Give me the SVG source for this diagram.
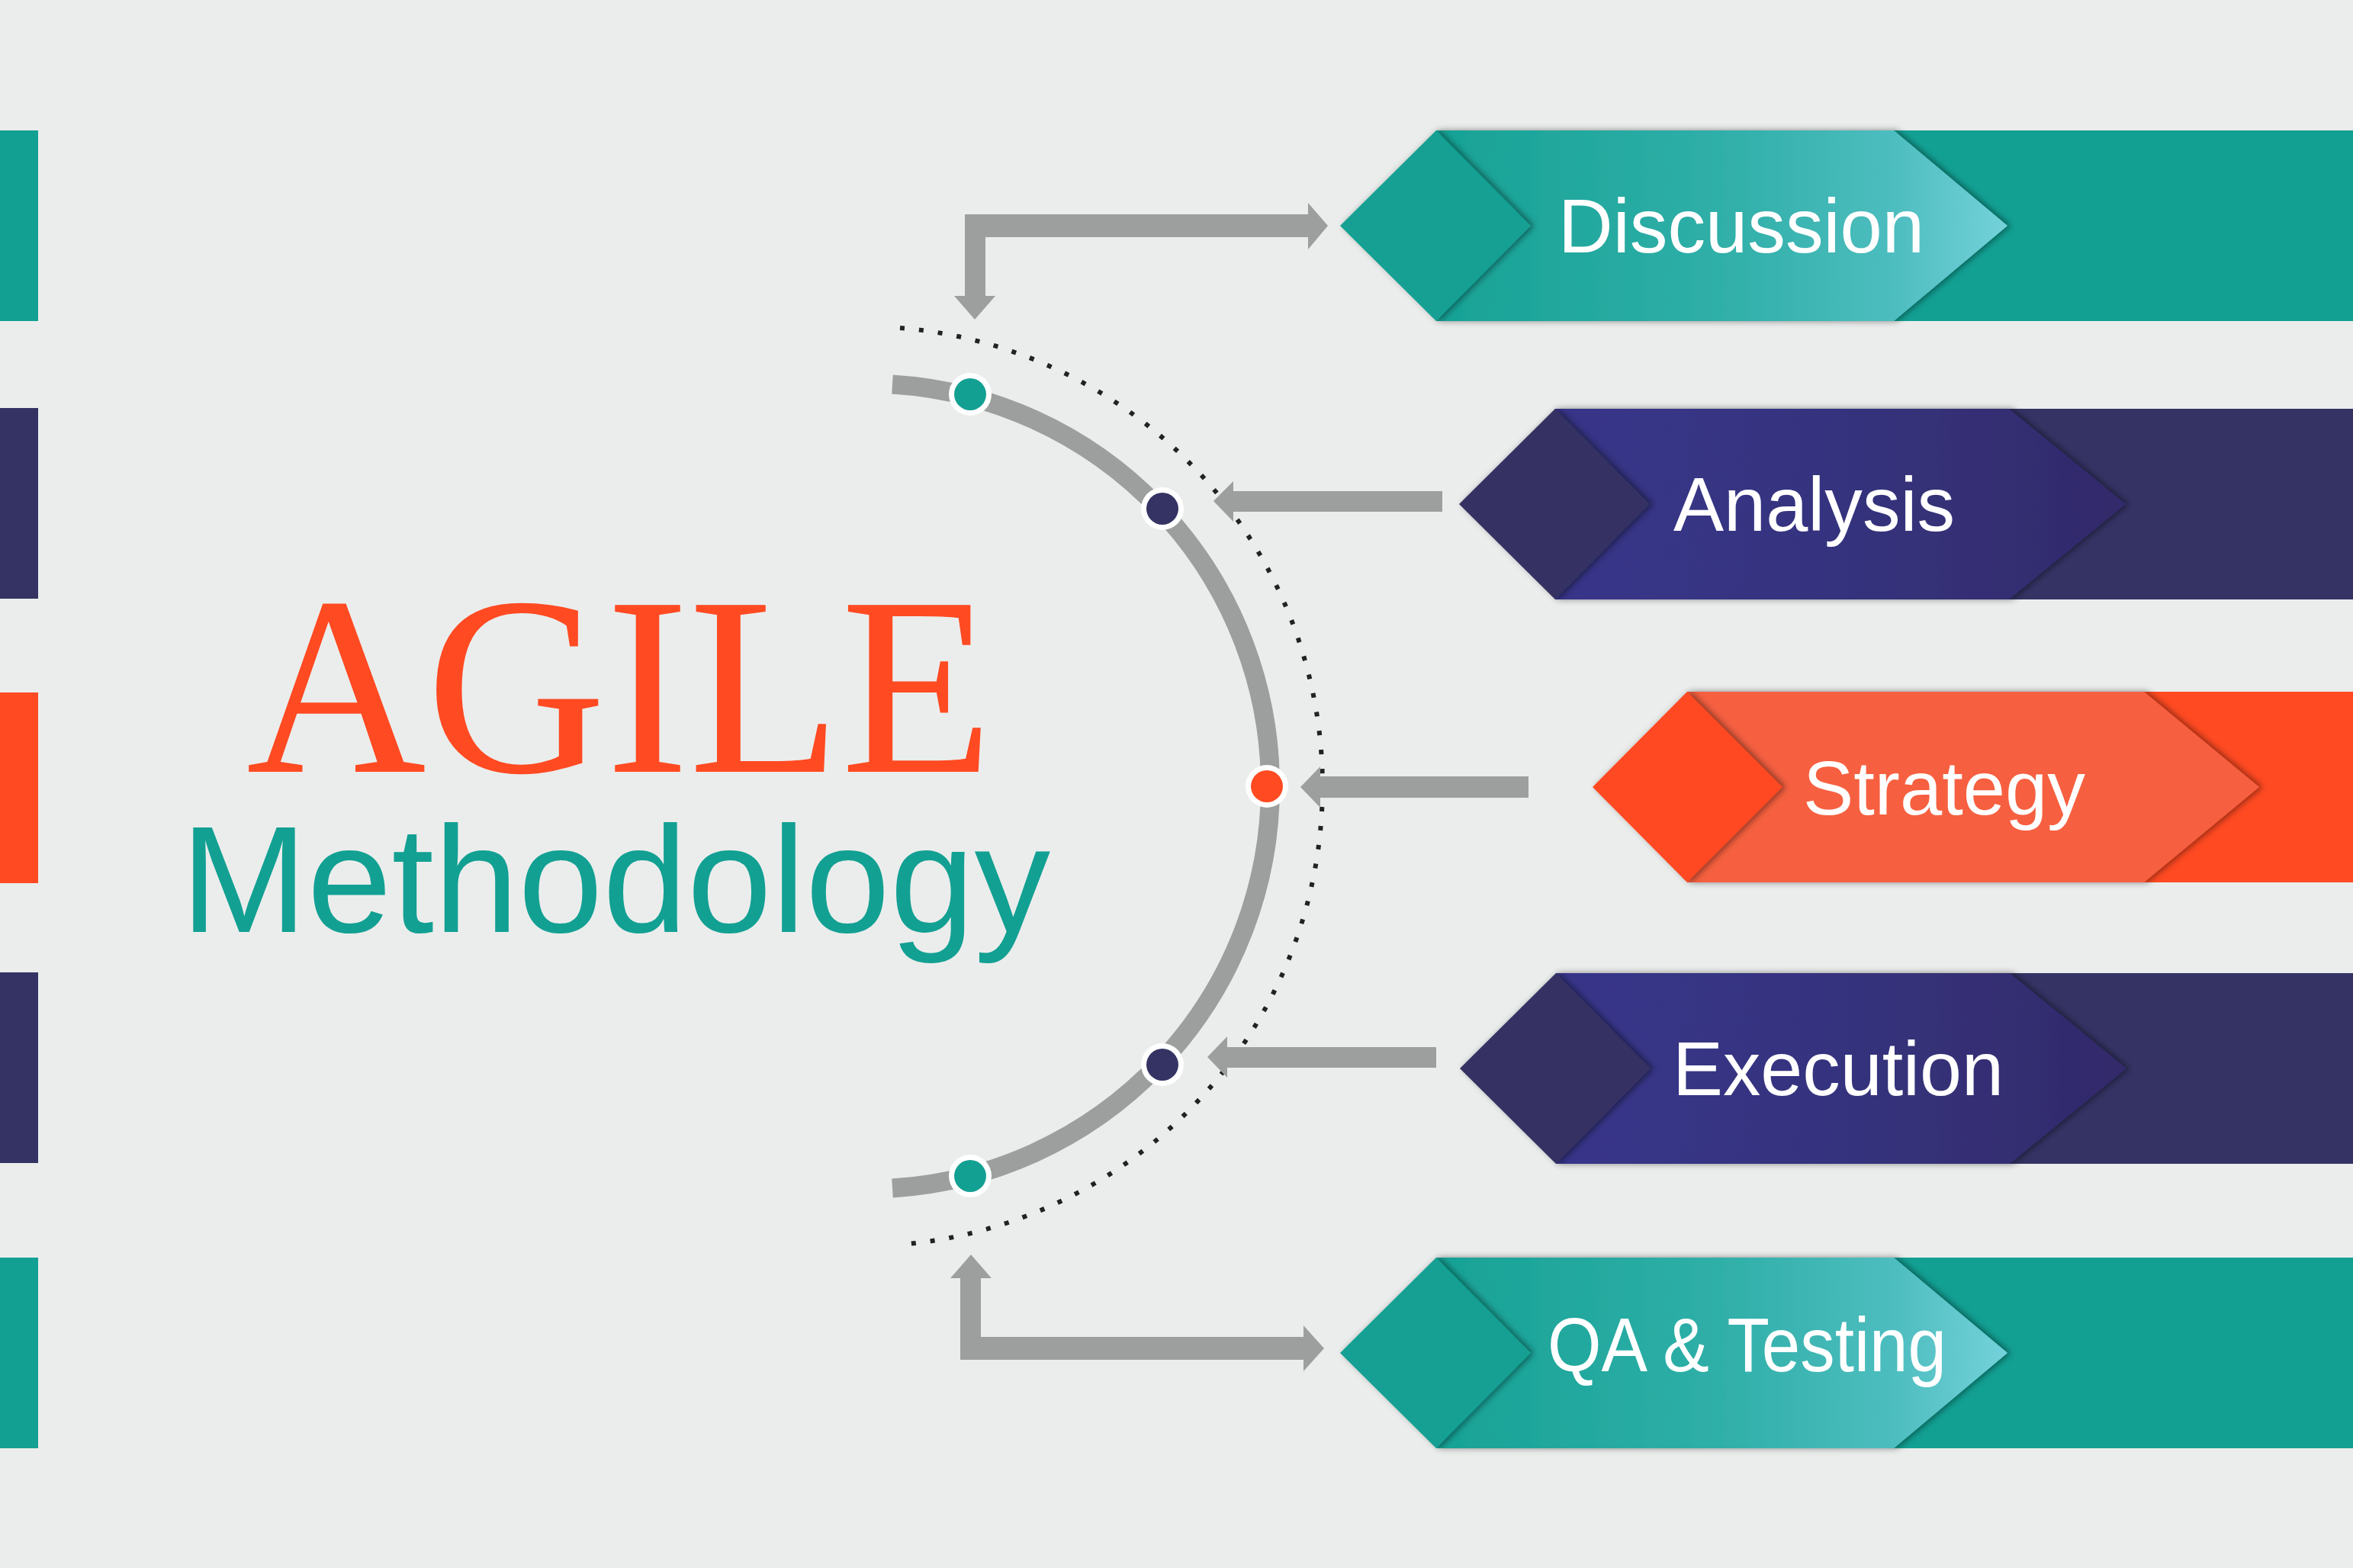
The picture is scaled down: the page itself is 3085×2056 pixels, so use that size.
<svg xmlns="http://www.w3.org/2000/svg" width="3085" height="2056" viewBox="0 0 3085 2056">
  <defs>
    <style>
      .bg { fill: #EBEDEC; }
      .teal { fill: #12A093; }
      .navy { fill: #343364; }
      .orange { fill: #FF4A22; }
      .arrow { fill: #9D9F9E; }
      .label { font-family: "Liberation Sans", Arial, sans-serif; font-size: 100px; fill: #FFFFFF; }
      .ring { fill: #FFFFFF; }
    </style>
    <linearGradient id="gTeal" x1="0" y1="0" x2="1" y2="0">
      <stop offset="0" stop-color="#17A295"/>
      <stop offset="0.5" stop-color="#2FAFA8"/>
      <stop offset="0.8" stop-color="#4DBDBF"/>
      <stop offset="1" stop-color="#74D2DA"/>
    </linearGradient>
    <linearGradient id="gNavy" x1="0" y1="0" x2="1" y2="0">
      <stop offset="0" stop-color="#37358A"/>
      <stop offset="0.5" stop-color="#36337E"/>
      <stop offset="1" stop-color="#322A6A"/>
    </linearGradient>
    <filter id="shade" x="-10%" y="-10%" width="120%" height="120%">
      <feDropShadow dx="4" dy="0" stdDeviation="4" flood-color="#000000" flood-opacity="0.45"/>
    </filter>
  </defs>

  <rect class="bg" x="0" y="0" width="3085" height="2056"/>

  <!-- colour tabs on the left edge -->
  <g id="side-tabs">
    <rect class="teal" x="0" y="171" width="50" height="250"/>
    <rect class="navy" x="0" y="535" width="50" height="250"/>
    <rect class="orange" x="0" y="908" width="50" height="250"/>
    <rect class="navy" x="0" y="1275" width="50" height="250"/>
    <rect class="teal" x="0" y="1649" width="50" height="250"/>
  </g>

  <!-- title -->
  <g id="title">
    <text x="323" y="1012" font-family="'Liberation Serif', 'Times New Roman', serif" font-size="334" fill="#FF4A22" textLength="979" lengthAdjust="spacingAndGlyphs">AGILE</text>
    <text x="237" y="1222" font-family="'Liberation Sans', Arial, sans-serif" font-size="198" fill="#12A093" textLength="1140" lengthAdjust="spacingAndGlyphs">Methodology</text>
  </g>

  <!-- connectors: arc, dotted guide and arrows -->
  <g id="connectors">
    <path d="M 1180 430 A 603 603 0 0 1 1180 1632" fill="none" stroke="#222222" stroke-width="6" stroke-dasharray="6 19"/>
    <path d="M 1170 504 A 528 528 0 0 1 1170 1558" fill="none" stroke="#9D9F9E" stroke-width="25"/>
    <polygon class="arrow" points="1265,281 1715,281 1715,266 1741,296 1715,327 1715,311 1292,311 1292,388 1305,388 1278,419 1251,388 1265,388"/>
    <polygon class="arrow" points="1891,644 1891,671 1617,671 1617,684 1591,657 1617,631 1617,644"/>
    <polygon class="arrow" points="2004,1018 2004,1046 1731,1046 1731,1059 1705,1032 1731,1005 1731,1018"/>
    <polygon class="arrow" points="1883,1373 1883,1400 1609,1400 1609,1413 1583,1386 1609,1359 1609,1373"/>
    <polygon class="arrow" points="1259,1783 1709,1783 1709,1798 1736,1768 1709,1738 1709,1753 1286,1753 1286,1676 1300,1676 1273,1645 1246,1676 1259,1676"/>
  </g>

  <!-- stage markers on the arc -->
  <g id="markers">
    <circle class="ring" cx="1272" cy="517" r="28"/><circle class="teal" cx="1272" cy="517" r="21"/>
    <circle class="ring" cx="1524" cy="667" r="28"/><circle class="navy" cx="1524" cy="667" r="21"/>
    <circle class="ring" cx="1661" cy="1031" r="28"/><circle class="orange" cx="1661" cy="1031" r="21"/>
    <circle class="ring" cx="1524" cy="1396" r="28"/><circle class="navy" cx="1524" cy="1396" r="21"/>
    <circle class="ring" cx="1272" cy="1542" r="28"/><circle class="teal" cx="1272" cy="1542" r="21"/>
  </g>

  <!-- Discussion -->
  <g id="node-discussion">
    <rect class="teal" x="1883" y="171" width="1202" height="250"/>
    <polygon points="1883,171 2483,171 2632,296 2483,421 1883,421 2007,296" fill="url(#gTeal)" filter="url(#shade)"/>
    <polygon class="teal" points="1757,296 1883,171 2007,296 1883,421" filter="url(#shade)"/>
    <text class="label" x="2043" y="331" textLength="480" lengthAdjust="spacingAndGlyphs">Discussion</text>
  </g>

  <!-- Analysis -->
  <g id="node-analysis">
    <rect class="navy" x="2039" y="536" width="1046" height="250"/>
    <polygon points="2039,536 2634,536 2787,661 2634,786 2039,786 2163,661" fill="url(#gNavy)" filter="url(#shade)"/>
    <polygon class="navy" points="1913,661 2039,536 2163,661 2039,786" filter="url(#shade)"/>
    <text class="label" x="2194" y="696" textLength="369" lengthAdjust="spacingAndGlyphs">Analysis</text>
  </g>

  <!-- Strategy -->
  <g id="node-strategy">
    <rect class="orange" x="2212" y="907" width="873" height="250"/>
    <polygon points="2212,907 2811,907 2962,1032 2811,1157 2212,1157 2337,1032" fill="#F66141" filter="url(#shade)"/>
    <polygon class="orange" points="2088,1032 2212,907 2337,1032 2212,1157" filter="url(#shade)"/>
    <text class="label" x="2364" y="1068" textLength="370" lengthAdjust="spacingAndGlyphs">Strategy</text>
  </g>

  <!-- Execution -->
  <g id="node-execution">
    <rect class="navy" x="2040" y="1276" width="1045" height="250"/>
    <polygon points="2040,1276 2635,1276 2788,1401 2635,1526 2040,1526 2164,1401" fill="url(#gNavy)" filter="url(#shade)"/>
    <polygon class="navy" points="1914,1401 2040,1276 2164,1401 2040,1526" filter="url(#shade)"/>
    <text class="label" x="2193" y="1436" textLength="434" lengthAdjust="spacingAndGlyphs">Execution</text>
  </g>

  <!-- QA & Testing -->
  <g id="node-qa-testing">
    <rect class="teal" x="1883" y="1649" width="1202" height="250"/>
    <polygon points="1883,1649 2483,1649 2632,1774 2483,1899 1883,1899 2007,1774" fill="url(#gTeal)" filter="url(#shade)"/>
    <polygon class="teal" points="1757,1774 1883,1649 2007,1774 1883,1899" filter="url(#shade)"/>
    <text class="label" x="2029" y="1798" font-size="92" textLength="523" lengthAdjust="spacingAndGlyphs">QA &amp; Testing</text>
  </g>
</svg>
